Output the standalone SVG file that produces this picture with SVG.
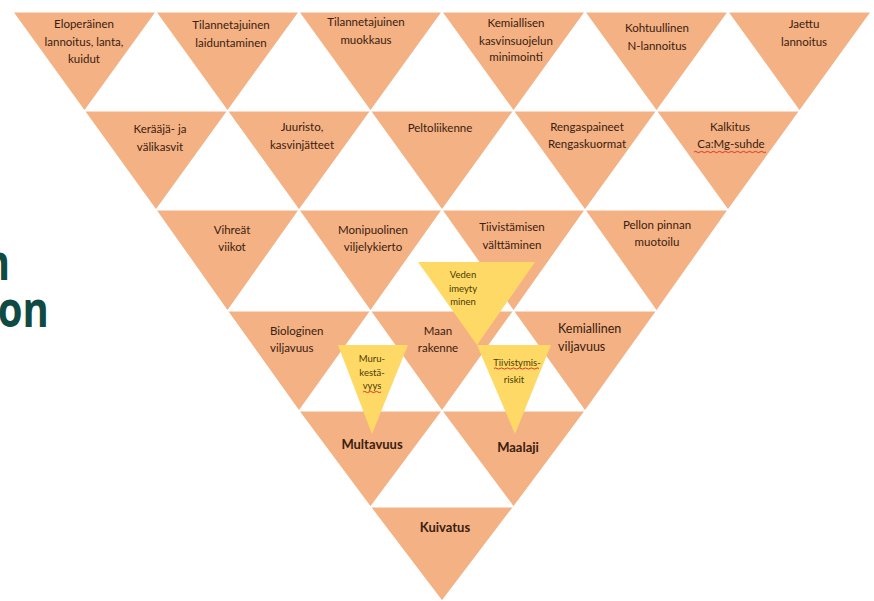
<svg xmlns="http://www.w3.org/2000/svg" width="874" height="601" viewBox="0 0 874 601">
<style>
.tri{fill:#F4B183;stroke:#fff;stroke-width:1.2}
.ytri{fill:#FFD966}
.lbl{font-family:Lato,"Liberation Sans",sans-serif;font-size:11.5px;fill:#3a2010;text-anchor:middle}
.st{text-anchor:start}
.mid{font-size:12.5px}
.big{font-size:13px;font-weight:bold}
.ylbl{font-family:Lato,"Liberation Sans",sans-serif;font-size:9.5px;fill:#4a3c08;text-anchor:middle}
.wave{fill:none;stroke:#d9362a;stroke-width:1}
.title{font-family:"Open Sans","Liberation Sans",sans-serif;font-size:50px;font-weight:bold;fill:#0f4a43;text-anchor:end}
</style>
<rect width="874" height="601" fill="#fff"/>
<g id="title">
<text class="title" transform="scale(0.8 1)" x="12.5" y="280">n</text>
<text class="title" transform="scale(0.8 1)" x="61" y="327">on</text>
</g>
<g id="connectors"/>
<!-- Row 0 -->
<g id="n-eloperainen"><polygon class="tri" points="13,12 156,12 84.5,111"/>
<text class="lbl" x="84" y="28">Eloperäinen</text><text class="lbl" x="84" y="46">lannoitus, lanta,</text><text class="lbl" x="84" y="63">kuidut</text></g>
<g id="n-laiduntaminen"><polygon class="tri" points="156,12 299,12 227.5,111"/>
<text class="lbl" x="231" y="29">Tilannetajuinen</text><text class="lbl" x="231" y="47">laiduntaminen</text></g>
<g id="n-muokkaus"><polygon class="tri" points="299,12 442,12 370.5,111"/>
<text class="lbl" x="366" y="26">Tilannetajuinen</text><text class="lbl" x="366" y="44">muokkaus</text></g>
<g id="n-kasvinsuojelu"><polygon class="tri" points="442,12 585,12 513.5,111"/>
<text class="lbl" x="516" y="27">Kemiallisen</text><text class="lbl" x="516" y="45">kasvinsuojelun</text><text class="lbl" x="516" y="61">minimointi</text></g>
<g id="n-nlannoitus"><polygon class="tri" points="585,12 728,12 656.5,111"/>
<text class="lbl" x="657" y="32">Kohtuullinen</text><text class="lbl" x="657" y="50">N-lannoitus</text></g>
<g id="n-jaettu"><polygon class="tri" points="728,12 871,12 799.5,111"/>
<text class="lbl" x="804" y="28">Jaettu</text><text class="lbl" x="804" y="46">lannoitus</text></g>
<!-- Row 1 -->
<g id="n-keraaja"><polygon class="tri" points="84.5,111 227.5,111 156,210"/>
<text class="lbl" x="160" y="133">Kerääjä- ja</text><text class="lbl" x="160" y="151">välikasvit</text></g>
<g id="n-juuristo"><polygon class="tri" points="227.5,111 370.5,111 299,210"/>
<text class="lbl" x="302" y="131">Juuristo,</text><text class="lbl" x="302" y="149">kasvinjätteet</text></g>
<g id="n-peltoliikenne"><polygon class="tri" points="370.5,111 513.5,111 442,210"/>
<text class="lbl" x="440" y="132">Peltoliikenne</text></g>
<g id="n-rengas"><polygon class="tri" points="513.5,111 656.5,111 585,210"/>
<text class="lbl" x="587" y="131">Rengaspaineet</text><text class="lbl" x="587" y="148">Rengaskuormat</text></g>
<g id="n-kalkitus"><polygon class="tri" points="656.5,111 799.5,111 728,210"/>
<text class="lbl" x="730" y="131">Kalkitus</text><text class="lbl" x="731" y="148">Ca:Mg-suhde</text>
<path class="wave" d="M694,152 q1.5,-1.3 3,0 t3,0 t3,0 t3,0 t3,0 t3,0 t3,0 t3,0 t3,0 t3,0 t3,0 t3,0 t3,0 t3,0 t3,0 t3,0 t3,0 t3,0 t3,0 t3,0 t3,0 t3,0 t3,0 t3,0"/></g>
<!-- Row 2 -->
<g id="n-vihreat"><polygon class="tri" points="156,210 299,210 227.5,311"/>
<text class="lbl" x="232" y="234">Vihreät</text><text class="lbl" x="232" y="251">viikot</text></g>
<g id="n-viljelykierto"><polygon class="tri" points="299,210 442,210 370.5,311"/>
<text class="lbl" x="373" y="234">Monipuolinen</text><text class="lbl" x="373" y="251">viljelykierto</text></g>
<g id="n-tiivistaminen"><polygon class="tri" points="442,210 585,210 513.5,311"/>
<text class="lbl" x="512" y="231">Tiivistämisen</text><text class="lbl" x="512" y="249">välttäminen</text></g>
<g id="n-pellon"><polygon class="tri" points="585,210 728,210 656.5,311"/>
<text class="lbl" x="657" y="229">Pellon pinnan</text><text class="lbl" x="657" y="246">muotoilu</text></g>
<!-- Row 3 -->
<g id="n-biologinen"><polygon class="tri" points="227.5,311 370.5,311 299,411"/>
<text class="lbl st" x="270" y="335">Biologinen</text><text class="lbl st" x="270" y="352">viljavuus</text></g>
<g id="n-maanrakenne"><polygon class="tri" points="370.5,311 513.5,311 442,411"/>
<text class="lbl" x="438" y="335">Maan</text><text class="lbl" x="438" y="352">rakenne</text></g>
<g id="n-kemiallinen"><polygon class="tri" points="513.5,311 656.5,311 585,411"/>
<text class="lbl st mid" x="558" y="333">Kemiallinen</text><text class="lbl st mid" x="558" y="351">viljavuus</text></g>
<!-- Row 4 -->
<g id="n-multavuus"><polygon class="tri" points="299,411 442,411 370.5,507"/>
<text class="lbl big" x="372" y="449">Multavuus</text></g>
<g id="n-maalaji"><polygon class="tri" points="442,411 585,411 513.5,507"/>
<text class="lbl big" x="518" y="452">Maalaji</text></g>
<!-- Row 5 -->
<g id="n-kuivatus"><polygon class="tri" points="370.5,507 513.5,507 442,601"/>
<text class="lbl big" x="445" y="532">Kuivatus</text></g>
<!-- Yellow overlays -->
<g id="y-veden"><polygon class="ytri" points="418,262 535,262 477,345"/>
<text class="ylbl st" x="463" y="278">Veden</text><text class="ylbl st" x="463" y="292">imeyty</text><text class="ylbl st" x="463" y="305">minen</text></g>
<g id="y-muru"><polygon class="ytri" points="338,345 408,345 372,434"/>
<text class="ylbl" x="372" y="362">Muru-</text><text class="ylbl" x="372" y="376">kestä-</text><text class="ylbl" x="372" y="389">vyys</text>
<path class="wave" d="M363,392 q1.5,-1.2 3,0 t3,0 t3,0 t3,0 t3,0 t3,0"/></g>
<g id="y-tiivistymis"><polygon class="ytri" points="477,345 551,345 515,434"/>
<text class="ylbl" x="517" y="366">Tiivistymis-</text><text class="ylbl" x="514" y="383">riskit</text>
<path class="wave" d="M494,368.5 q1.5,-1.2 3,0 t3,0 t3,0 t3,0 t3,0 t3,0 t3,0 t3,0 t3,0 t3,0 t3,0 t3,0 t3,0 t3,0 t3,0"/></g>
</svg>
